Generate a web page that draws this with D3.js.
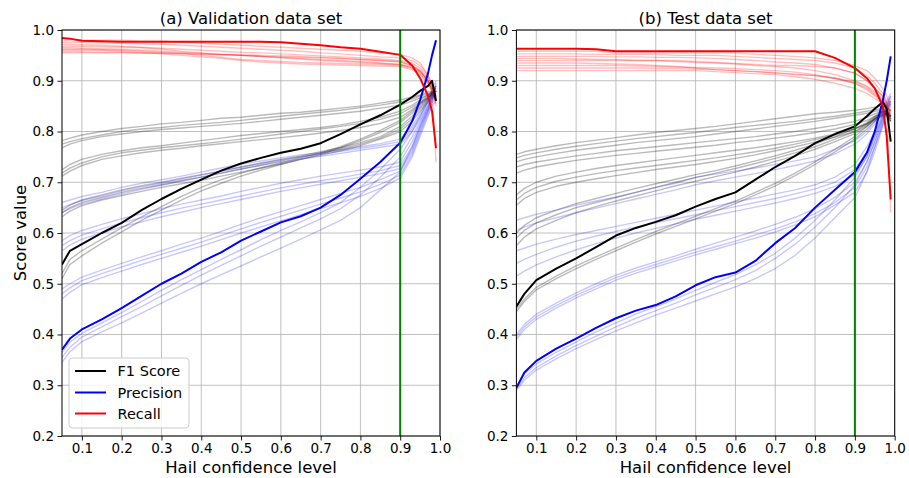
<!DOCTYPE html>
<html><head><meta charset="utf-8">
<script src="https://cdn.jsdelivr.net/npm/d3@7"></script>
<style>
body{margin:0;background:#fff;}
text{font-family:"DejaVu Sans",sans-serif;fill:#000;}
</style></head>
<body><svg id="c" width="909" height="478"></svg>
<script>
// ---------- data ----------
const confidence = [0.05,0.07,0.1,0.15,0.2,0.25,0.3,0.35,0.4,0.45,0.5,0.55,0.6,0.65,0.7,0.75,0.8,0.85,0.9,0.93,0.95,0.97,0.98,0.99];
const xTicks = [0.1,0.2,0.3,0.4,0.5,0.6,0.7,0.8,0.9,1.0];
const yTicks = [0.2,0.3,0.4,0.5,0.6,0.7,0.8,0.9,1.0];
const panelTitles = ["(a) Validation data set","(b) Test data set"];
const legendLabels = ["F1 Score","Precision","Recall"];
const threshold = 0.9;

// (a) validation – highlighted model
const valF1Main   = [0.538,0.565,0.578,0.60,0.62,0.645,0.667,0.687,0.705,0.723,0.737,0.748,0.758,0.766,0.777,0.795,0.814,0.832,0.853,0.868,0.88,0.89,0.90,0.86];
const valPrecMain = [0.37,0.392,0.41,0.43,0.452,0.476,0.50,0.52,0.543,0.562,0.585,0.603,0.621,0.633,0.65,0.675,0.707,0.74,0.778,0.82,0.862,0.915,0.95,0.98];
const valRecMain  = [0.984,0.983,0.979,0.978,0.977,0.977,0.977,0.977,0.977,0.977,0.977,0.977,0.976,0.973,0.97,0.966,0.963,0.957,0.951,0.93,0.905,0.87,0.84,0.767];
// (a) validation – other models
const valF1Others = [
[0.782,0.787,0.793,0.80,0.806,0.81,0.815,0.818,0.822,0.826,0.828,0.832,0.836,0.838,0.842,0.846,0.85,0.856,0.862,0.868,0.872,0.878,0.88,0.87],
[0.775,0.78,0.786,0.793,0.80,0.805,0.808,0.812,0.815,0.818,0.822,0.826,0.83,0.834,0.838,0.842,0.847,0.852,0.858,0.864,0.87,0.875,0.878,0.885],
[0.768,0.775,0.782,0.79,0.795,0.80,0.804,0.807,0.81,0.813,0.816,0.82,0.824,0.828,0.832,0.836,0.84,0.846,0.852,0.86,0.866,0.872,0.876,0.865],
[0.725,0.735,0.745,0.755,0.762,0.768,0.772,0.777,0.782,0.787,0.792,0.796,0.80,0.804,0.808,0.813,0.82,0.828,0.84,0.852,0.862,0.872,0.878,0.875],
[0.718,0.728,0.738,0.75,0.758,0.763,0.768,0.772,0.776,0.78,0.785,0.79,0.795,0.80,0.805,0.81,0.816,0.824,0.835,0.848,0.858,0.868,0.874,0.88],
[0.712,0.722,0.733,0.745,0.752,0.758,0.763,0.767,0.772,0.776,0.78,0.784,0.788,0.792,0.797,0.802,0.808,0.816,0.828,0.843,0.855,0.866,0.872,0.862],
[0.645,0.655,0.665,0.675,0.685,0.693,0.70,0.708,0.715,0.722,0.73,0.738,0.745,0.752,0.76,0.768,0.778,0.79,0.81,0.83,0.848,0.865,0.875,0.88],
[0.64,0.65,0.66,0.67,0.68,0.688,0.695,0.703,0.71,0.718,0.726,0.734,0.742,0.75,0.757,0.765,0.775,0.787,0.805,0.825,0.845,0.862,0.872,0.87],
[0.632,0.643,0.654,0.665,0.674,0.682,0.69,0.697,0.704,0.712,0.72,0.728,0.736,0.745,0.753,0.762,0.772,0.785,0.80,0.82,0.84,0.858,0.868,0.874],
[0.52,0.548,0.565,0.588,0.61,0.632,0.652,0.672,0.69,0.705,0.718,0.728,0.738,0.748,0.758,0.77,0.785,0.802,0.822,0.84,0.855,0.87,0.878,0.868],
[0.51,0.538,0.555,0.58,0.602,0.625,0.645,0.665,0.683,0.698,0.712,0.724,0.735,0.745,0.755,0.768,0.782,0.798,0.818,0.836,0.852,0.866,0.875,0.88]
];
const valPrecOthers = [
[0.66,0.665,0.672,0.68,0.69,0.698,0.705,0.712,0.72,0.728,0.736,0.742,0.748,0.754,0.758,0.764,0.77,0.776,0.785,0.81,0.835,0.865,0.88,0.9],
[0.65,0.656,0.664,0.673,0.683,0.691,0.698,0.706,0.714,0.722,0.73,0.737,0.744,0.75,0.755,0.761,0.767,0.773,0.78,0.805,0.83,0.86,0.875,0.89],
[0.64,0.648,0.657,0.667,0.677,0.686,0.694,0.702,0.71,0.718,0.726,0.733,0.74,0.746,0.751,0.757,0.763,0.769,0.775,0.8,0.825,0.855,0.87,0.885],
[0.585,0.595,0.605,0.617,0.628,0.638,0.648,0.657,0.665,0.673,0.682,0.69,0.698,0.705,0.712,0.718,0.724,0.73,0.74,0.78,0.815,0.85,0.87,0.89],
[0.575,0.585,0.596,0.608,0.62,0.63,0.64,0.649,0.657,0.665,0.673,0.681,0.689,0.696,0.703,0.709,0.716,0.723,0.733,0.77,0.81,0.845,0.865,0.88],
[0.565,0.576,0.588,0.6,0.612,0.622,0.632,0.641,0.65,0.658,0.666,0.674,0.682,0.689,0.696,0.703,0.71,0.717,0.727,0.765,0.805,0.84,0.86,0.895],
[0.49,0.5,0.513,0.527,0.54,0.553,0.565,0.578,0.59,0.603,0.617,0.63,0.642,0.654,0.666,0.678,0.69,0.705,0.722,0.76,0.8,0.84,0.86,0.88],
[0.48,0.492,0.506,0.52,0.533,0.546,0.558,0.57,0.582,0.595,0.608,0.621,0.633,0.645,0.657,0.669,0.681,0.696,0.714,0.755,0.795,0.835,0.855,0.87],
[0.47,0.483,0.498,0.512,0.525,0.538,0.55,0.562,0.574,0.587,0.6,0.612,0.624,0.636,0.648,0.66,0.672,0.688,0.708,0.75,0.79,0.83,0.85,0.86],
[0.365,0.385,0.402,0.423,0.443,0.465,0.487,0.508,0.528,0.548,0.567,0.587,0.605,0.622,0.64,0.66,0.69,0.725,0.765,0.8,0.83,0.86,0.875,0.89],
[0.355,0.375,0.395,0.415,0.435,0.455,0.476,0.497,0.517,0.536,0.555,0.574,0.592,0.61,0.628,0.648,0.675,0.71,0.75,0.79,0.82,0.85,0.87,0.88],
[0.345,0.366,0.386,0.405,0.423,0.442,0.462,0.481,0.5,0.518,0.535,0.553,0.57,0.588,0.606,0.625,0.65,0.685,0.72,0.77,0.81,0.845,0.865,0.87]
];
const valRecOthers = [
[0.98,0.98,0.98,0.98,0.98,0.978,0.978,0.976,0.974,0.972,0.97,0.968,0.966,0.964,0.962,0.96,0.958,0.955,0.952,0.945,0.935,0.91,0.89,0.87],
[0.976,0.976,0.976,0.975,0.974,0.973,0.972,0.97,0.968,0.966,0.964,0.962,0.96,0.958,0.955,0.953,0.95,0.947,0.945,0.94,0.93,0.91,0.895,0.88],
[0.972,0.972,0.971,0.97,0.968,0.966,0.964,0.962,0.96,0.958,0.956,0.955,0.953,0.951,0.949,0.947,0.945,0.943,0.94,0.935,0.925,0.905,0.89,0.86],
[0.968,0.968,0.968,0.967,0.966,0.965,0.962,0.958,0.955,0.952,0.95,0.948,0.947,0.946,0.945,0.944,0.942,0.94,0.938,0.93,0.92,0.9,0.885,0.85],
[0.965,0.965,0.964,0.963,0.962,0.96,0.958,0.956,0.954,0.952,0.95,0.948,0.945,0.943,0.94,0.938,0.936,0.934,0.932,0.925,0.915,0.895,0.88,0.74],
[0.962,0.962,0.962,0.961,0.96,0.958,0.956,0.954,0.95,0.946,0.942,0.94,0.938,0.936,0.935,0.934,0.933,0.932,0.93,0.925,0.918,0.9,0.885,0.87],
[0.96,0.96,0.96,0.96,0.958,0.956,0.953,0.95,0.947,0.944,0.94,0.937,0.935,0.933,0.932,0.931,0.93,0.929,0.928,0.922,0.912,0.895,0.88,0.855],
[0.957,0.957,0.957,0.956,0.956,0.955,0.955,0.954,0.953,0.952,0.951,0.95,0.949,0.948,0.946,0.944,0.942,0.94,0.937,0.93,0.92,0.9,0.88,0.865],
[0.955,0.955,0.955,0.955,0.955,0.954,0.954,0.953,0.952,0.951,0.95,0.948,0.946,0.944,0.942,0.94,0.938,0.935,0.932,0.928,0.918,0.9,0.885,0.875]
];

// (b) test – highlighted model
const testF1Main   = [0.455,0.48,0.507,0.53,0.55,0.572,0.595,0.61,0.622,0.635,0.652,0.667,0.68,0.705,0.73,0.752,0.777,0.795,0.81,0.83,0.845,0.858,0.845,0.78];
const testPrecMain = [0.295,0.325,0.348,0.372,0.392,0.413,0.432,0.447,0.458,0.475,0.497,0.513,0.522,0.545,0.58,0.61,0.65,0.685,0.72,0.758,0.80,0.86,0.90,0.948];
const testRecMain  = [0.963,0.963,0.963,0.963,0.963,0.962,0.958,0.958,0.958,0.958,0.958,0.958,0.958,0.958,0.958,0.958,0.958,0.945,0.925,0.905,0.885,0.85,0.79,0.666];
// (b) test – other models
const testF1Others = [
[0.755,0.76,0.765,0.772,0.778,0.783,0.788,0.793,0.798,0.802,0.806,0.81,0.815,0.82,0.825,0.83,0.835,0.838,0.842,0.845,0.848,0.85,0.848,0.84],
[0.748,0.753,0.758,0.765,0.771,0.776,0.781,0.786,0.79,0.794,0.798,0.803,0.808,0.812,0.816,0.82,0.825,0.83,0.836,0.84,0.843,0.845,0.84,0.83],
[0.74,0.745,0.75,0.757,0.763,0.768,0.773,0.778,0.782,0.786,0.79,0.795,0.8,0.805,0.81,0.815,0.82,0.826,0.832,0.836,0.84,0.842,0.838,0.825],
[0.73,0.735,0.74,0.746,0.752,0.757,0.762,0.766,0.77,0.774,0.778,0.782,0.786,0.79,0.795,0.8,0.806,0.812,0.82,0.828,0.835,0.84,0.84,0.835],
[0.718,0.724,0.73,0.737,0.743,0.748,0.753,0.757,0.761,0.765,0.769,0.773,0.778,0.782,0.787,0.792,0.798,0.805,0.814,0.822,0.83,0.837,0.838,0.83],
[0.675,0.688,0.7,0.712,0.72,0.727,0.733,0.738,0.743,0.748,0.753,0.758,0.763,0.768,0.774,0.78,0.787,0.795,0.806,0.815,0.825,0.832,0.835,0.828],
[0.665,0.678,0.69,0.702,0.71,0.717,0.723,0.728,0.733,0.738,0.743,0.748,0.754,0.76,0.767,0.775,0.784,0.793,0.805,0.815,0.825,0.833,0.835,0.83],
[0.655,0.668,0.68,0.692,0.7,0.707,0.713,0.719,0.725,0.73,0.735,0.741,0.747,0.754,0.762,0.77,0.779,0.789,0.8,0.812,0.822,0.83,0.832,0.82],
[0.60,0.615,0.63,0.645,0.658,0.668,0.678,0.688,0.697,0.706,0.715,0.723,0.732,0.742,0.752,0.763,0.775,0.79,0.805,0.818,0.83,0.84,0.838,0.83],
[0.59,0.605,0.62,0.636,0.65,0.66,0.67,0.68,0.69,0.7,0.709,0.718,0.727,0.737,0.747,0.758,0.77,0.785,0.8,0.815,0.828,0.838,0.835,0.825],
[0.575,0.592,0.608,0.625,0.64,0.652,0.663,0.673,0.683,0.693,0.702,0.711,0.72,0.73,0.741,0.752,0.765,0.78,0.796,0.81,0.825,0.835,0.832,0.82],
[0.45,0.47,0.493,0.515,0.535,0.553,0.57,0.587,0.603,0.618,0.633,0.648,0.663,0.68,0.698,0.718,0.74,0.765,0.79,0.81,0.825,0.84,0.84,0.83],
[0.445,0.465,0.488,0.51,0.53,0.548,0.565,0.582,0.598,0.613,0.628,0.643,0.658,0.675,0.693,0.713,0.735,0.76,0.785,0.805,0.82,0.835,0.835,0.82]
];
const testPrecOthers = [
[0.625,0.63,0.637,0.645,0.655,0.663,0.671,0.68,0.69,0.698,0.71,0.716,0.722,0.728,0.735,0.742,0.75,0.765,0.782,0.8,0.82,0.845,0.86,0.875],
[0.605,0.612,0.62,0.63,0.64,0.649,0.658,0.667,0.676,0.685,0.695,0.703,0.71,0.717,0.725,0.733,0.742,0.756,0.775,0.795,0.815,0.84,0.855,0.87],
[0.565,0.57,0.578,0.588,0.597,0.605,0.613,0.621,0.629,0.637,0.645,0.653,0.661,0.669,0.677,0.685,0.695,0.71,0.735,0.77,0.8,0.835,0.85,0.865],
[0.54,0.548,0.558,0.572,0.584,0.594,0.603,0.612,0.62,0.628,0.636,0.644,0.652,0.66,0.668,0.677,0.687,0.7,0.725,0.76,0.795,0.83,0.85,0.86],
[0.515,0.525,0.537,0.553,0.567,0.579,0.59,0.6,0.609,0.618,0.627,0.635,0.643,0.651,0.659,0.668,0.678,0.692,0.715,0.75,0.79,0.825,0.845,0.855],
[0.4,0.42,0.44,0.462,0.482,0.5,0.517,0.531,0.543,0.555,0.568,0.58,0.592,0.604,0.617,0.631,0.648,0.67,0.7,0.74,0.78,0.82,0.84,0.86],
[0.395,0.415,0.435,0.457,0.477,0.495,0.512,0.526,0.538,0.55,0.562,0.573,0.584,0.596,0.608,0.622,0.638,0.66,0.69,0.73,0.77,0.815,0.835,0.85],
[0.39,0.41,0.43,0.452,0.472,0.49,0.507,0.521,0.533,0.545,0.557,0.568,0.579,0.59,0.602,0.616,0.632,0.655,0.68,0.72,0.76,0.81,0.83,0.845],
[0.298,0.322,0.342,0.365,0.385,0.405,0.423,0.44,0.455,0.47,0.487,0.503,0.518,0.537,0.56,0.59,0.625,0.665,0.71,0.75,0.79,0.83,0.85,0.87],
[0.293,0.315,0.335,0.358,0.378,0.397,0.415,0.432,0.447,0.462,0.478,0.493,0.508,0.526,0.55,0.578,0.612,0.65,0.695,0.74,0.78,0.825,0.845,0.86],
[0.29,0.31,0.33,0.352,0.372,0.39,0.407,0.423,0.438,0.452,0.466,0.48,0.494,0.51,0.53,0.556,0.59,0.63,0.67,0.72,0.77,0.815,0.84,0.855]
];
const testRecOthers = [
[0.958,0.958,0.958,0.958,0.958,0.958,0.955,0.955,0.955,0.955,0.955,0.955,0.955,0.952,0.95,0.948,0.945,0.94,0.93,0.92,0.905,0.885,0.87,0.85],
[0.953,0.953,0.953,0.953,0.953,0.952,0.952,0.952,0.952,0.95,0.95,0.95,0.948,0.946,0.944,0.942,0.94,0.935,0.925,0.91,0.895,0.875,0.86,0.84],
[0.948,0.948,0.948,0.948,0.948,0.948,0.947,0.947,0.946,0.946,0.945,0.944,0.942,0.94,0.937,0.935,0.932,0.925,0.915,0.9,0.885,0.87,0.855,0.83],
[0.944,0.944,0.944,0.944,0.943,0.942,0.942,0.94,0.94,0.938,0.936,0.935,0.933,0.93,0.928,0.925,0.92,0.912,0.9,0.89,0.878,0.865,0.85,0.825],
[0.94,0.94,0.94,0.94,0.94,0.94,0.94,0.94,0.94,0.94,0.938,0.936,0.934,0.932,0.93,0.93,0.928,0.925,0.915,0.9,0.885,0.87,0.855,0.64],
[0.935,0.935,0.935,0.935,0.935,0.934,0.933,0.932,0.93,0.928,0.925,0.922,0.92,0.918,0.915,0.912,0.91,0.905,0.898,0.888,0.875,0.862,0.85,0.835],
[0.93,0.93,0.93,0.93,0.93,0.93,0.93,0.929,0.928,0.927,0.926,0.925,0.924,0.922,0.92,0.917,0.912,0.905,0.895,0.885,0.872,0.86,0.848,0.84],
[0.925,0.925,0.925,0.925,0.925,0.925,0.925,0.925,0.924,0.924,0.923,0.922,0.92,0.918,0.916,0.913,0.91,0.905,0.895,0.882,0.87,0.858,0.845,0.82],
[0.92,0.92,0.92,0.92,0.92,0.92,0.92,0.92,0.92,0.92,0.92,0.918,0.916,0.914,0.912,0.908,0.903,0.895,0.885,0.875,0.865,0.855,0.84,0.83]
];

// ---------- drawing ----------
const svg = d3.select("#c");
const y = d3.scaleLinear().domain([0.2,1.0]).range([436,30]);
const panels = [
  {x: d3.scaleLinear().domain([0.05,1.0]).range([62,440]), title: panelTitles[0],
   f1: valF1Main, pr: valPrecMain, rc: valRecMain, f1o: valF1Others, pro: valPrecOthers, rco: valRecOthers, legend: true, ylabel: true},
  {x: d3.scaleLinear().domain([0.05,1.0]).range([516.4,894.7]), title: panelTitles[1],
   f1: testF1Main, pr: testPrecMain, rc: testRecMain, f1o: testF1Others, pro: testPrecOthers, rco: testRecOthers, legend: false, ylabel: false}
];
const COLORS = {f1:"#000000", pr:"#0000ff", rc:"#ff0000"};

panels.forEach((p,i) => {
  const g = svg.append("g");
  const [x0,x1] = p.x.range();
  const cid = "clip"+i;
  svg.append("defs").append("clipPath").attr("id",cid).append("rect")
    .attr("x",x0).attr("y",30).attr("width",x1-x0).attr("height",406);

  // grid
  g.append("g").selectAll("line").data(xTicks).join("line")
    .attr("x1",d=>p.x(d)).attr("x2",d=>p.x(d)).attr("y1",30).attr("y2",436)
    .attr("stroke","#b0b0b0").attr("stroke-width",0.8);
  g.append("g").selectAll("line").data(yTicks).join("line")
    .attr("x1",x0).attr("x2",x1).attr("y1",d=>y(d)).attr("y2",d=>y(d))
    .attr("stroke","#b0b0b0").attr("stroke-width",0.8);

  const line = d3.line().x((d,k)=>p.x(confidence[k])).y(d=>y(d));
  const plot = g.append("g").attr("clip-path",`url(#${cid})`);
  // faint lines
  const faint = (arr,col,op) => plot.append("g").selectAll("path").data(arr).join("path")
    .attr("d",line).attr("fill","none").attr("stroke",col).attr("stroke-opacity",op)
    .attr("stroke-width",1.4).attr("stroke-linejoin","round");
  faint(p.f1o, COLORS.f1, 0.27);
  faint(p.pro, COLORS.pr, 0.22);
  faint(p.rco, COLORS.rc, 0.25);
  // main lines
  [[p.f1,COLORS.f1],[p.pr,COLORS.pr],[p.rc,COLORS.rc]].forEach(([d,c])=>{
    plot.append("path").datum(d).attr("d",line).attr("fill","none")
      .attr("stroke",c).attr("stroke-width",2).attr("stroke-linejoin","round");
  });
  // threshold line
  plot.append("line").attr("x1",p.x(threshold)).attr("x2",p.x(threshold))
    .attr("y1",30).attr("y2",436).attr("stroke","#008000").attr("stroke-width",2);

  // axes
  const xa = g.append("g").attr("transform","translate(0,436)")
    .call(d3.axisBottom(p.x).tickValues(xTicks).tickSize(4.5).tickPadding(3).tickFormat(d3.format(".1f")));
  const ya = g.append("g").attr("transform",`translate(${x0},0)`)
    .call(d3.axisLeft(y).tickValues(yTicks).tickSize(4.5).tickPadding(3.5).tickFormat(d3.format(".1f")));
  [xa,ya].forEach(a=>{
    a.select(".domain").remove();
    a.selectAll("text").attr("font-family","DejaVu Sans").attr("font-size",13.5).attr("fill","#000");
    a.selectAll("line").attr("stroke","#000").attr("stroke-width",0.9);
  });
  // frame
  g.append("rect").attr("x",x0).attr("y",30).attr("width",x1-x0).attr("height",406)
    .attr("fill","none").attr("stroke","#000").attr("stroke-width",1);

  // titles
  g.append("text").attr("x",(x0+x1)/2).attr("y",24).attr("text-anchor","middle")
    .attr("font-size",16.5).text(p.title);
  g.append("text").attr("x",(x0+x1)/2).attr("y",473).attr("text-anchor","middle")
    .attr("font-size",16.5).text("Hail confidence level");
  if (p.ylabel) {
    g.append("text").attr("transform","translate(26,233) rotate(-90)").attr("text-anchor","middle")
      .attr("font-size",16.5).text("Score value");
  }
  if (p.legend) {
    const lg = g.append("g");
    lg.append("rect").attr("x",69).attr("y",358).attr("width",120).attr("height",70)
      .attr("rx",3.5).attr("fill","#fff").attr("fill-opacity",0.8).attr("stroke","#cccccc").attr("stroke-width",1);
    const cols = [COLORS.f1, COLORS.pr, COLORS.rc];
    const ly = [371, 392.5, 413.5];
    legendLabels.forEach((t,k)=>{
      lg.append("line").attr("x1",75).attr("x2",106).attr("y1",ly[k]).attr("y2",ly[k])
        .attr("stroke",cols[k]).attr("stroke-width",2);
      lg.append("text").attr("x",117.5).attr("y",ly[k]).attr("dy","0.35em")
        .attr("font-size",14.5).text(t);
    });
  }
});
</script>
</body></html>
